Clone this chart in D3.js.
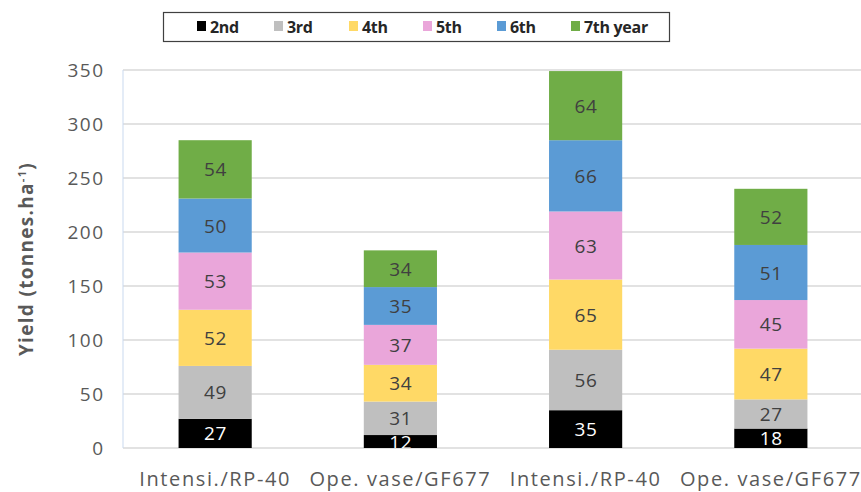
<!DOCTYPE html>
<html><head><meta charset="utf-8">
<script src="https://cdn.jsdelivr.net/npm/d3@7"></script>
<style>body{margin:0;background:#fff}svg{display:block;font-family:"Open Sans",sans-serif}</style>
</head><body><svg id="c" width="861" height="492"></svg>
<script>
const categories = ["Intensi./RP-40","Ope. vase/GF677","Intensi./RP-40","Ope. vase/GF677"];
const seriesNames = ["2nd","3rd","4th","5th","6th","7th year"];
const y2nd = [27,12,35,18];
const y3rd = [49,31,56,27];
const y4th = [52,34,65,47];
const y5th = [53,37,63,45];
const y6th = [50,35,66,51];
const y7th = [54,34,64,52];
const yTicks = [0,50,100,150,200,250,300,350];
const colors = ["#000000","#bfbfbf","#ffd966","#eaa6da","#5b9bd5","#70ad47"];

const seriesVals = [y2nd,y3rd,y4th,y5th,y6th,y7th];
const rows = categories.map((c,i)=>{const r={idx:i};seriesNames.forEach((s,k)=>r[s]=seriesVals[k][i]);return r;});
const stack = d3.stack().keys(seriesNames)(rows);

const svg = d3.select("#c");
const L=123,R=863,T=70,B=448;
const x = d3.scaleBand().domain(d3.range(categories.length)).range([L,R]).paddingInner(0.605).paddingOuter(0.3);
const y = d3.scaleLinear().domain([0,350]).range([B,T]);

svg.append("defs").append("clipPath").attr("id","pa").append("rect").attr("x",L).attr("y",0).attr("width",R-L).attr("height",B);

// gridlines
svg.append("g").selectAll("line").data(yTicks).join("line")
  .attr("x1",L).attr("x2",R).attr("y1",d=>y(d)).attr("y2",d=>y(d))
  .attr("stroke","#d9d9d9").attr("stroke-width",1.3);
svg.append("line").attr("x1",L).attr("x2",L).attr("y1",T).attr("y2",B).attr("stroke","#c9d9ef").attr("stroke-width",1);

// y axis
const ya = svg.append("g").attr("transform",`translate(${L-18.5},0)`)
  .call(d3.axisLeft(y).tickValues(yTicks).tickSize(0).tickPadding(0));
ya.select(".domain").remove();
ya.selectAll("text").attr("fill","#595959").attr("font-size",19).attr("letter-spacing",1.5).attr("font-family","Open Sans, sans-serif");

// y title
svg.append("text").attr("transform",`translate(33,259) rotate(-90)`).attr("text-anchor","middle")
  .attr("font-size",19).attr("letter-spacing",1.3).attr("font-weight","bold").attr("fill","#595959")
  .call(t=>{t.append("tspan").text("Yield (tonnes.ha");t.append("tspan").attr("baseline-shift","super").attr("font-size",11).text("-1");t.append("tspan").text(")");});

// bars
const g = svg.append("g");
const lab = svg.append("g").attr("clip-path","url(#pa)");
stack.forEach((s,k)=>{
  const gg = g.append("g").attr("fill",colors[k]);
  gg.selectAll("rect").data(s).join("rect")
    .attr("x",(d,i)=>x(i)).attr("width",x.bandwidth())
    .attr("y",d=>y(d[1])).attr("height",d=>y(d[0])-y(d[1]));
  lab.append("g").selectAll("text").data(s).join("text")
    .attr("x",(d,i)=>x(i)+x.bandwidth()/2+0.3).attr("y",d=>(y(d[0])+y(d[1]))/2+7)
    .attr("text-anchor","middle").attr("font-size",19).attr("letter-spacing",0.6).attr("fill",k===0?"#ffffff":"#404040")
    .text((d,i)=>seriesVals[k][i]);
});

// x labels
svg.append("g").selectAll("text").data(categories).join("text")
  .attr("x",(d,i)=>x(i)+x.bandwidth()/2).attr("y",486).attr("text-anchor","middle")
  .attr("font-size",20).attr("letter-spacing",1.6).attr("fill","#595959").text(d=>d);

// legend
const lg = svg.append("g");
lg.append("rect").attr("x",163.5).attr("y",12.5).attr("width",506).attr("height",29).attr("fill","#fff").attr("stroke","#404040").attr("stroke-width",1.2);
const lx = [197,274,349,423,497,571];
seriesNames.forEach((s,k)=>{
  lg.append("rect").attr("x",lx[k]).attr("y",21).attr("width",9).attr("height",10).attr("fill",colors[k]);
  lg.append("text").attr("x",lx[k]+13).attr("y",33).attr("font-size",16).attr("letter-spacing",-0.3).attr("font-weight","bold").attr("fill","#262626").text(s);
});
</script></body></html>
